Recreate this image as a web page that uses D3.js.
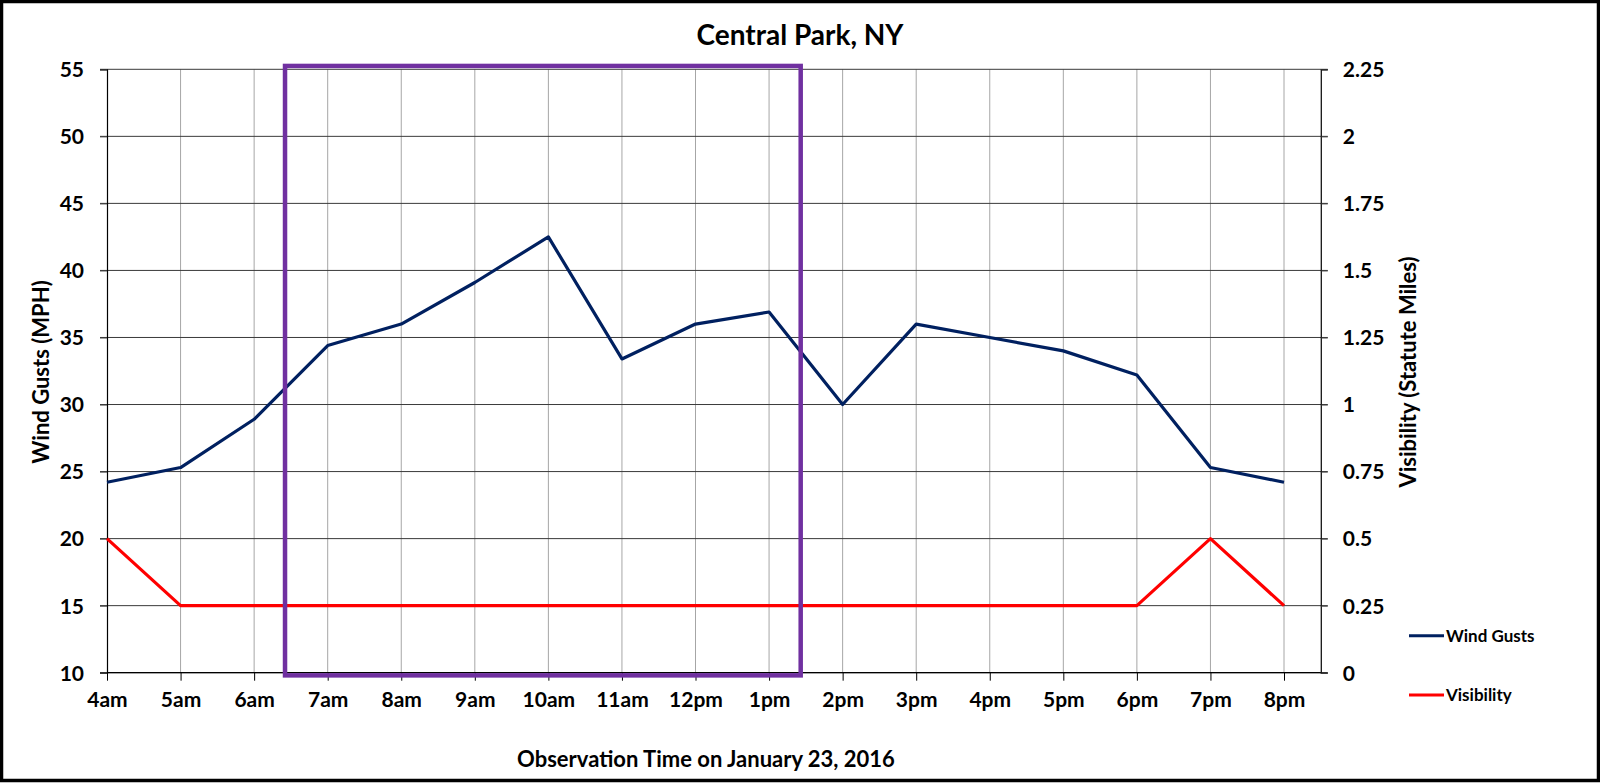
<!DOCTYPE html>
<html><head><meta charset="utf-8">
<script src="https://cdn.jsdelivr.net/npm/d3@7"></script>
<style>
html,body{margin:0;padding:0;background:#fff;}
svg{display:block;}
text{font-family:Lato,"Open Sans",sans-serif;font-weight:bold;fill:#000;}
</style></head>
<body>
<svg id="chart" width="1600" height="783"></svg>
<script>
const categories = ["4am","5am","6am","7am","8am","9am","10am","11am","12pm","1pm","2pm","3pm","4pm","5pm","6pm","7pm","8pm"];
const windGusts = [24.2,25.3,28.9,34.4,36,39.1,42.5,33.4,36,36.9,30,36,35,34,32.2,25.3,24.2];
const visibility = [0.5,0.25,0.25,0.25,0.25,0.25,0.25,0.25,0.25,0.25,0.25,0.25,0.25,0.25,0.25,0.5,0.25];
const leftTicks = [10,15,20,25,30,35,40,45,50,55];
const rightTicks = [0,0.25,0.5,0.75,1,1.25,1.5,1.75,2,2.25];
const seriesNames = ["Wind Gusts","Visibility"];
const highlightX = [2.42, 9.43];      // category-index span of the annotation box
const highlightY = [9.8, 55.25];      // wind-gust units span of the annotation box

const W = 1600, H = 783;
const svg = d3.select("#chart");
const colors = {wind:"#002060", vis:"#FF0000", box:"#7030A0"};
const tickFont = "21px";

const plotL = 107, plotT = 69.3, plotB = 672.7;
const xIdx = d3.scaleLinear().domain([0, categories.length-1]).range([107, 1284]);
const plotR = xIdx(categories.length - 0.5);
const x = d3.scalePoint().domain(categories).range([xIdx(0), xIdx(categories.length-1)]);
const yL = d3.scaleLinear().domain([10,55]).range([plotB, plotT]);
const yR = d3.scaleLinear().domain([0,2.25]).range([plotB, plotT]);

// outer border
svg.append("rect").attr("x",1.5).attr("y",1.5).attr("width",W-3).attr("height",H-4)
  .attr("fill","#fff").attr("stroke","#000").attr("stroke-width",3.5);

// vertical gridlines
svg.append("g").selectAll("line").data(categories.slice(1)).join("line")
  .attr("x1",d=>x(d)).attr("x2",d=>x(d)).attr("y1",plotT).attr("y2",plotB)
  .attr("stroke","#a6a6a6").attr("stroke-width",1);

// horizontal gridlines (extend over tick marks on both sides)
svg.append("g").selectAll("line").data(leftTicks).join("line")
  .attr("x1",plotL-7).attr("x2",plotR+7).attr("y1",d=>yL(d)).attr("y2",d=>yL(d))
  .attr("stroke","#3a3a3a").attr("stroke-width",1);

// left axis
const gL = svg.append("g").attr("transform",`translate(${plotL},0)`)
  .call(d3.axisLeft(yL).tickValues(leftTicks).tickSize(7).tickPadding(16).tickFormat(d3.format("d")));
gL.select(".domain").attr("stroke","#000").attr("stroke-width",1.2);
gL.selectAll(".tick line").attr("stroke","#3a3a3a");
gL.selectAll("text").style("font-size",tickFont).style("font-family","Lato").style("font-weight","bold").attr("dy","0.35em");

// right axis
const gR = svg.append("g").attr("transform",`translate(${plotR},0)`)
  .call(d3.axisRight(yR).tickValues(rightTicks).tickSize(7).tickPadding(15).tickFormat(d=>String(d)));
gR.select(".domain").attr("stroke","#000").attr("stroke-width",1.2);
gR.selectAll(".tick line").attr("stroke","#3a3a3a");
gR.selectAll("text").style("font-size",tickFont).style("font-family","Lato").style("font-weight","bold").attr("dy","0.35em");

// bottom axis
const gB = svg.append("g").attr("transform",`translate(0,${plotB})`)
  .call(d3.axisBottom(x).tickSize(8).tickPadding(11));
gB.select(".domain").remove();
gB.selectAll(".tick line").attr("stroke","#000");
gB.selectAll("text").style("font-size",tickFont).style("font-family","Lato").style("font-weight","bold");
svg.append("line").attr("x1",plotL).attr("x2",plotR).attr("y1",plotB).attr("y2",plotB)
  .attr("stroke","#000").attr("stroke-width",1.2);

// series
const lineWind = d3.line().x((d,i)=>x(categories[i])).y(d=>yL(d));
const lineVis = d3.line().x((d,i)=>x(categories[i])).y(d=>yR(d));
svg.append("path").datum(visibility).attr("d",lineVis).attr("fill","none")
  .attr("stroke",colors.vis).attr("stroke-width",3.2).attr("stroke-linejoin","round");
svg.append("path").datum(windGusts).attr("d",lineWind).attr("fill","none")
  .attr("stroke",colors.wind).attr("stroke-width",3.2).attr("stroke-linejoin","round");

// annotation box
svg.append("rect")
  .attr("x",xIdx(highlightX[0])).attr("y",yL(highlightY[1]))
  .attr("width",xIdx(highlightX[1])-xIdx(highlightX[0]))
  .attr("height",yL(highlightY[0])-yL(highlightY[1]))
  .attr("fill","none").attr("stroke",colors.box).attr("stroke-width",4.5);

// titles
svg.append("text").attr("x",800).attr("y",45).attr("text-anchor","middle")
  .style("font-size","28px").text("Central Park, NY");
svg.append("text").attr("x",706).attr("y",767).attr("text-anchor","middle")
  .style("font-size","22px").text("Observation Time on January 23, 2016");
svg.append("text").attr("transform",`translate(49,372) rotate(-90)`).attr("text-anchor","middle")
  .style("font-size","22px").text("Wind Gusts (MPH)");
svg.append("text").attr("transform",`translate(1416,372) rotate(-90)`).attr("text-anchor","middle")
  .style("font-size","22px").text("Visibility (Statute Miles)");

// legend
const legY = [635.7, 695];
const legColors = [colors.wind, colors.vis];
const leg = svg.append("g").selectAll("g").data(seriesNames).join("g")
  .attr("transform",(d,i)=>`translate(1409,${legY[i]})`);
leg.append("line").attr("x1",0).attr("x2",35).attr("y1",0).attr("y2",0)
  .attr("stroke",(d,i)=>legColors[i]).attr("stroke-width",3);
leg.append("text").attr("x",37).attr("y",0).attr("dy","0.35em")
  .style("font-size","17px").text(d=>d);
</script>
</body></html>
